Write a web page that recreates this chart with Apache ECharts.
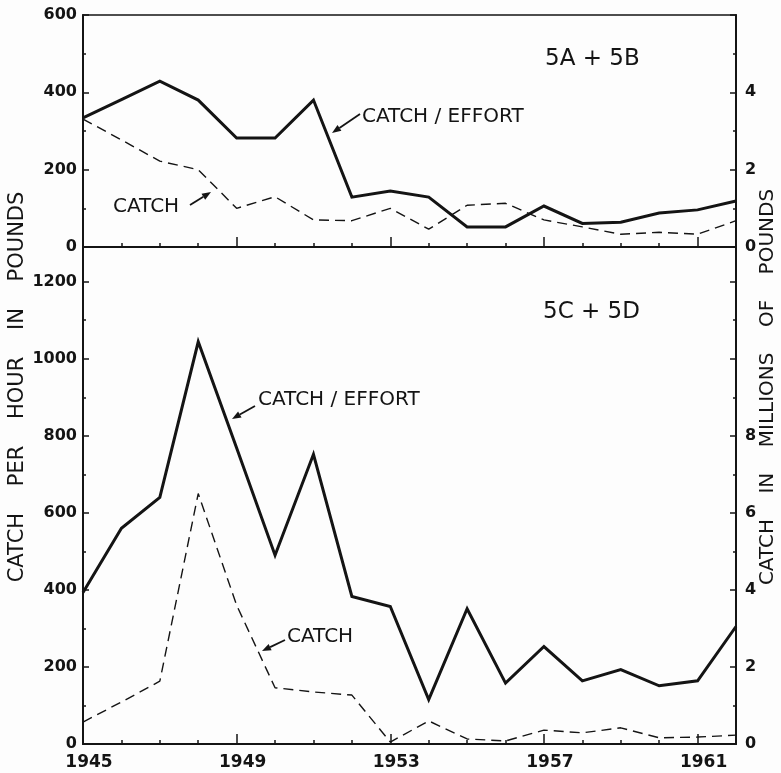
<!DOCTYPE html>
<html>
<head>
<meta charset="utf-8">
<script src="https://cdn.jsdelivr.net/npm/echarts@6/dist/echarts.min.js"></script>
<style>
  html, body { margin: 0; padding: 0; background: #fdfdfd; }
  #chart { width: 781px; height: 773px; }
</style>
</head>
<body>
<div id="chart"></div>
<script>
// Years of record (first year is the origin of the x scale)
const years = [1945, 1946, 1947, 1948, 1949, 1950, 1951, 1952, 1953,
               1954, 1955, 1956, 1957, 1958, 1959, 1960, 1961, 1962];
const baseYear = 1945;

// Subareas 5A + 5B: catch per hour (pounds) and total catch (millions of pounds)
const effortAB = [334, 381, 429, 380, 282, 282, 380, 129, 145,
                  129, 52, 52, 106, 61, 64, 88, 96, 119];
const catchAB = [3.31, 2.77, 2.22, 2.0, 1.0, 1.3, 0.7, 0.68, 1.0,
                 0.46, 1.08, 1.13, 0.7, 0.52, 0.33, 0.38, 0.33, 0.68];

// Subareas 5C + 5D
const effortCD = [393, 560, 640, 1044, 768, 490, 752, 383, 357,
                  115, 351, 158, 253, 164, 193, 151, 164, 305];
const catchCD = [0.57, 1.09, 1.63, 6.5, 3.6, 1.46, 1.35, 1.27, 0.05,
                 0.6, 0.13, 0.08, 0.36, 0.29, 0.42, 0.16, 0.18, 0.23];

// Axis tick labels
const yearLabels = [1945, 1949, 1953, 1957, 1961];
const leftLabelsAB = [0, 200, 400, 600];
const rightLabelsAB = [0, 2, 4];
const leftLabelsCD = [0, 200, 400, 600, 800, 1000, 1200];
const rightLabelsCD = [0, 2, 4, 6, 8];

const INK = '#141414';
const FONT = 'DejaVu Sans';

const pairs = (vals) => years.map((y, i) => [y - baseYear, vals[i]]);
const onlyIn = (list) => (v) => (list.indexOf(Math.round(v * 1000) / 1000) >= 0 ? String(v) : '');

function xAxes(gridIndex, withLabels) {
  const minor = {
    gridIndex, type: 'value', min: 0, max: years[years.length - 1] - baseYear,
    interval: 1, position: 'bottom',
    axisLine: { show: false },
    axisTick: { show: true, inside: true, length: 4, lineStyle: { color: INK, width: 1.5 } },
    axisLabel: { show: false }, splitLine: { show: false }
  };
  const major = {
    gridIndex, type: 'value', min: 0, max: years[years.length - 1] - baseYear,
    interval: 4, position: 'bottom',
    axisLine: { show: true, lineStyle: { color: INK, width: 2 } },
    axisTick: { show: true, inside: true, length: 10, lineStyle: { color: INK, width: 1.5 } },
    axisLabel: {
      show: withLabels, color: INK, fontFamily: FONT, fontWeight: 'bold', fontSize: 17,
      margin: 10, padding: [0, 0, 0, 12],
      formatter: (v) => {
        const yr = v + baseYear;
        return yearLabels.indexOf(yr) >= 0 ? String(yr) : '';
      }
    },
    splitLine: { show: false }
  };
  return [minor, major];
}

function yAxes(gridIndex, position, max, majorStep, labels) {
  const major = {
    gridIndex, type: 'value', position, min: 0, max, interval: majorStep,
    axisLine: { show: true, lineStyle: { color: INK, width: 2 } },
    axisTick: { show: true, inside: true, length: 6, lineStyle: { color: INK, width: 1.5 } },
    axisLabel: {
      color: INK, fontFamily: FONT, fontWeight: 'bold', fontSize: 16,
      margin: position === 'left' ? 6 : 9,
      formatter: onlyIn(labels)
    },
    splitLine: { show: false }
  };
  const minor = {
    gridIndex, type: 'value', position, min: 0, max, interval: majorStep / 2,
    axisLine: { show: false },
    axisTick: { show: true, inside: true, length: 3, lineStyle: { color: INK, width: 1.5 } },
    axisLabel: { show: false },
    splitLine: { show: false }
  };
  return [major, minor];
}

const solid = { color: INK, width: 3, type: 'solid', join: 'miter' };
const dashed = { color: INK, width: 1.4, type: [10, 6] };

function lineSeries(xAxisIndex, yAxisIndex, vals, style) {
  return {
    type: 'line', xAxisIndex, yAxisIndex, data: pairs(vals),
    showSymbol: false, symbol: 'none', lineStyle: style, silent: true,
    animation: false, z: style === solid ? 3 : 2
  };
}

// Annotation text and arrows
function label(text, x, y, size) {
  return {
    type: 'text', x, y,
    style: { text, fill: INK, font: `${size}px "${FONT}"`, textAlign: 'left', textVerticalAlign: 'middle' }
  };
}
function arrow(x1, y1, x2, y2) {
  const a = Math.atan2(y2 - y1, x2 - x1);
  const L = 9, W = 3.5;
  const bx = x2 - L * Math.cos(a), by = y2 - L * Math.sin(a);
  return [
    { type: 'line', shape: { x1, y1, x2: bx, y2: by }, style: { stroke: INK, lineWidth: 1.8 } },
    { type: 'polygon', shape: { points: [
        [x2, y2],
        [bx + W * Math.sin(a), by - W * Math.cos(a)],
        [bx - W * Math.sin(a), by + W * Math.cos(a)]
      ] }, style: { fill: INK } }
  ];
}
function vertical(text, x, y, size) {
  return {
    type: 'text', x, y, rotation: Math.PI / 2,
    style: { text, fill: INK, font: `${size}px "${FONT}"`, textAlign: 'center', textVerticalAlign: 'middle' }
  };
}

const chart = echarts.init(document.getElementById('chart'), null, { renderer: 'canvas' });

chart.setOption({
  backgroundColor: '#fdfdfd',
  animation: false,
  grid: [
    { left: 83, right: 45, top: 15, height: 232, show: true, borderColor: INK, borderWidth: 1.5, backgroundColor: 'transparent' },
    { left: 83, right: 45, top: 247, height: 497, show: true, borderColor: INK, borderWidth: 1.5, backgroundColor: 'transparent' }
  ],
  xAxis: [...xAxes(0, false), ...xAxes(1, true)],
  yAxis: [
    ...yAxes(0, 'left', 600, 200, leftLabelsAB),
    ...yAxes(0, 'right', 6, 2, rightLabelsAB),
    ...yAxes(1, 'left', 1290, 200, leftLabelsCD),
    ...yAxes(1, 'right', 12.9, 2, rightLabelsCD)
  ],
  series: [
    lineSeries(1, 0, effortAB, solid),
    lineSeries(1, 2, catchAB, dashed),
    lineSeries(3, 4, effortCD, solid),
    lineSeries(3, 6, catchCD, dashed)
  ],
  graphic: [
    label('5A + 5B', 545, 59, 23),
    label('CATCH / EFFORT', 362, 117, 20),
    ...arrow(360, 114, 332, 133),
    label('CATCH', 113, 207, 20),
    ...arrow(190, 205, 211, 192),
    label('5C + 5D', 543, 312, 23),
    label('CATCH / EFFORT', 258, 400, 20),
    ...arrow(255, 406, 232, 419),
    label('CATCH', 287, 637, 20),
    ...arrow(285, 640, 262, 651),
    vertical('CATCH    PER    HOUR    IN    POUNDS', 18, 387, 21),
    vertical('CATCH    IN    MILLIONS    OF    POUNDS', 768, 387, 20)
  ]
});
</script>
</body>
</html>
